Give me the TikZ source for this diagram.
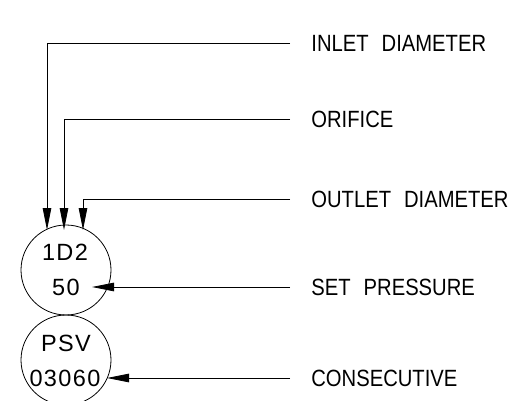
\documentclass[tikz,border=0pt]{standalone}
\usepackage{fontspec}
\setmainfont{Liberation Sans}
\newfontfamily\cadfont[FakeStretch=0.86]{Liberation Sans}
\newfontfamily\cadnum[LetterSpace=6]{Liberation Sans}
\usetikzlibrary{arrows.meta}
\begin{document}
\begin{tikzpicture}[x=1pt,y=-1pt,
  line width=0.8pt,
  lbl/.style={anchor=west, inner xsep=21pt, inner ysep=0pt, font=\cadfont\fontsize{23.5}{23.5}\selectfont},
  intext/.style={inner sep=0pt, font=\cadnum\fontsize{23.5}{23.5}\selectfont},
  bubble/.style={draw, circle, minimum size=90pt, inner sep=0pt},
  tip/.style={-{Triangle[length=22pt,width=8.5pt]}}]
\useasboundingbox (0,0) rectangle (509,401);
\clip (0,0) rectangle (509,401);
% bubbles
\node[bubble] (c1) at (66,270) {};
\node[bubble] (c2) at (66,360) {};
\node[intext] (t1d2) at (65,252) {1D2};
\node[intext] (t50) at (66,287) {50};
\node[intext] (tpsv) at (66,343) {PSV};
\node[intext] (tnum) at (65,378) {03060};
% arrow targets
\coordinate (a1) at (47,230);
\coordinate (a2) at (64,230);
\coordinate (a3) at (83,230);
\coordinate (a4) at (92,287);
\coordinate (a5) at (107,378);
% labels
\node[lbl] (l1) at (290,43) {INLET\hspace{13pt}DIAMETER};
\node[lbl] (l2) at (290,119) {ORIFICE};
\node[lbl] (l3) at (290,199) {OUTLET\hspace{13pt}DIAMETER};
\node[lbl] (l4) at (290,287) {SET\hspace{13pt}PRESSURE};
\node[lbl] (l5) at (290,378) {CONSECUTIVE};
% connectors
\draw[tip] (l1.west) -| (a1);
\draw[tip] (l2.west) -| (a2);
\draw[tip] (l3.west) -| (a3);
\draw[tip] (l4.west) -- (a4);
\draw[tip] (l5.west) -- (a5);
\end{tikzpicture}
\end{document}
